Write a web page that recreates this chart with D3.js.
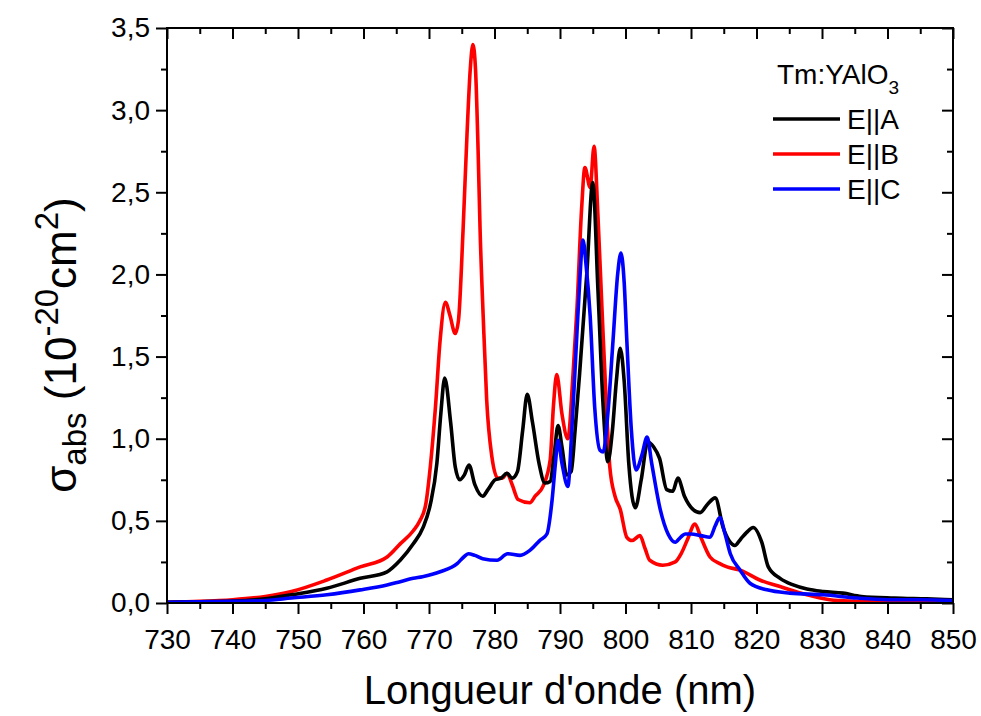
<!DOCTYPE html>
<html><head><meta charset="utf-8">
<script src="https://cdn.jsdelivr.net/npm/d3@7"></script>
<style>
body{margin:0;background:#fff}
svg{display:block}
text{font-family:"Liberation Sans",Arial,sans-serif;fill:#000}
</style>
</head><body>
<svg id="chart" width="981" height="716"></svg>
<script>
// ---------- data ----------
const xMajorTicks = [730,740,750,760,770,780,790,800,810,820,830,840,850];
const yMajorTicks = [0,0.5,1,1.5,2,2.5,3,3.5];
const seriesNames = ["E||A","E||B","E||C"];
const seriesColors = ["#000000","#ff0000","#0000ff"];
const legendTitle = "Tm:YAlO";
const legendTitleSub = "3";
const xTitle = "Longueur d'onde (nm)";

const nmA = [730,735,740,745,749,754.4,759.5,763.6,765.6,767.6,769.1,770.2,771.2,771.8,772.4,773.3,774,774.7,775.4,776.1,777,778.2,779,780.1,781,781.9,782.7,783.5,784.3,785,785.8,786.8,787.7,788.5,789.1,789.7,790.3,791,791.7,792.3,793,794.1,795,795.8,796.6,797.3,798,798.6,799.2,799.8,800.5,801.5,802.4,803.4,804.3,805.2,806.3,807.2,808,809,810.3,811.4,812.5,813.7,814.9,815.8,816.7,817.6,818.5,819.5,820.8,821.8,823.6,825.6,827.7,830.2,833.2,836,841,846,850];
const valA = [0.005,0.008,0.012,0.025,0.05,0.09,0.15,0.19,0.26,0.36,0.46,0.6,0.85,1.15,1.37,1.1,0.83,0.75,0.78,0.84,0.72,0.65,0.69,0.75,0.76,0.79,0.76,0.8,1.05,1.27,1.1,0.85,0.73,0.74,0.9,1.08,0.95,0.78,0.8,1.05,1.40,2.01,2.56,1.90,1.19,0.86,1.05,1.35,1.55,1.35,0.85,0.58,0.75,0.98,0.95,0.88,0.69,0.68,0.76,0.65,0.57,0.55,0.6,0.64,0.46,0.38,0.35,0.39,0.43,0.46,0.37,0.22,0.15,0.11,0.085,0.07,0.06,0.04,0.03,0.025,0.02];

const nmB = [730,735,740,745,749,754.4,759.5,763.6,765.6,767.6,768.6,769.5,770.2,771,771.7,772.5,773.2,774,774.5,775.2,775.8,776.3,776.7,777.1,777.5,777.8,778.3,778.8,779.6,780.5,781.2,781.9,782.7,783.6,785.4,786.2,787.4,788.5,789,789.5,790.3,791.2,792,792.6,793.3,793.8,794.6,795.2,795.8,796.4,797.2,797.6,798.4,799.2,800.2,801,802.2,803,803.7,805.7,807.6,808.5,809.4,810.6,811.5,812.9,814.4,815.5,817.5,820.5,823.6,827.7,831.2,835,840,850];
const valB = [0.005,0.01,0.02,0.04,0.07,0.14,0.22,0.28,0.36,0.44,0.5,0.6,0.83,1.2,1.6,1.83,1.75,1.64,1.72,2.27,2.85,3.25,3.40,3.25,2.75,2.27,1.72,1.24,0.89,0.76,0.76,0.79,0.72,0.63,0.61,0.65,0.71,0.87,1.2,1.39,1.15,1.0,1.4,1.80,2.4,2.65,2.53,2.78,2.35,1.80,1.10,0.83,0.65,0.57,0.40,0.38,0.41,0.33,0.26,0.23,0.25,0.30,0.38,0.48,0.40,0.28,0.24,0.22,0.20,0.14,0.10,0.05,0.02,0.01,0.005,0.003];

const nmC = [730,740,745,749,754.4,759.5,763.6,765.6,767.6,769,771.7,774.3,775.3,776,777,778.2,780.4,782,783.9,785.4,786.9,788,788.8,789.3,789.7,790.3,791.2,791.8,792.4,793,793.5,794,794.6,795.3,796.1,796.6,797.3,798.1,798.8,799.3,799.8,800.2,800.9,801.6,802.5,803.3,804,805.3,806.5,807.6,808.4,809.1,810,811.5,812.9,813.7,814.4,815.2,816,817.5,819,821.6,825.1,830.2,835.3,840,845,850];
const valC = [0.005,0.01,0.015,0.03,0.05,0.08,0.11,0.13,0.15,0.16,0.19,0.24,0.28,0.30,0.29,0.27,0.26,0.30,0.29,0.32,0.38,0.42,0.63,0.85,0.99,0.85,0.71,1.05,1.50,1.95,2.21,2.05,1.75,1.19,0.93,0.92,1.15,1.60,2.0,2.13,1.95,1.60,1.05,0.81,0.9,1.01,0.85,0.57,0.42,0.37,0.40,0.42,0.42,0.41,0.40,0.47,0.52,0.42,0.30,0.20,0.12,0.08,0.06,0.05,0.03,0.02,0.02,0.015];

// ---------- layout ----------
const W = 981, H = 716;
const m = {left:167, right:28, top:28, bottom:113};
const pw = W - m.left - m.right, ph = H - m.top - m.bottom;

const svg = d3.select("#chart");
const x = d3.scaleLinear().domain([730,850]).range([m.left, m.left+pw]);
const y = d3.scaleLinear().domain([0,3.5]).range([m.top+ph, m.top]);

const xMinor = d3.range(735, 850, 10);
const yMinor = d3.range(0.25, 3.5, 0.5);
const fmtY = d => d.toFixed(1).replace(".", ",");
const MAJ = 11, MIN = 6;

const series = [
  {nm:nmA, v:valA, c:seriesColors[0]},
  {nm:nmB, v:valB, c:seriesColors[1]},
  {nm:nmC, v:valC, c:seriesColors[2]}
];
svg.append("clipPath").attr("id","clp").append("rect")
  .attr("x",m.left).attr("y",m.top).attr("width",pw).attr("height",ph);
const line = d3.line().x(d=>x(d[0])).y(d=>y(d[1])).curve(d3.curveMonotoneX);
const g = svg.append("g").attr("clip-path","url(#clp)");
[1,0,2].forEach(i=>{
  const s = series[i];
  g.append("path").datum(s.nm.map((n,k)=>[n,s.v[k]]))
    .attr("d", line).attr("fill","none").attr("stroke", s.c)
    .attr("stroke-width",3.6).attr("stroke-linejoin","round");
});

// axes
function styleAxis(sel){
  sel.select(".domain").remove();
  sel.selectAll("line").attr("stroke","#000").attr("stroke-width",2);
  sel.selectAll("text").style("font-family",'"Liberation Sans",Arial,sans-serif').style("font-size","28px").attr("fill","#000");
}
const bx = svg.append("g").attr("transform",`translate(0,${m.top+ph})`)
  .call(d3.axisBottom(x).tickValues(xMajorTicks).tickSize(MAJ).tickPadding(15).tickFormat(d3.format("d")));
styleAxis(bx);
const bxm = svg.append("g").attr("transform",`translate(0,${m.top+ph})`)
  .call(d3.axisBottom(x).tickValues(xMinor).tickSize(MIN).tickFormat(""));
styleAxis(bxm);
const tx = svg.append("g").attr("transform",`translate(0,${m.top})`)
  .call(d3.axisTop(x).tickValues(xMajorTicks).tickSize(-MAJ).tickFormat(""));
styleAxis(tx);
const txm = svg.append("g").attr("transform",`translate(0,${m.top})`)
  .call(d3.axisTop(x).tickValues(xMinor).tickSize(-MIN).tickFormat(""));
styleAxis(txm);
const ly = svg.append("g").attr("transform",`translate(${m.left},0)`)
  .call(d3.axisLeft(y).tickValues(yMajorTicks).tickSize(MAJ).tickPadding(6).tickFormat(fmtY));
styleAxis(ly);
const lym = svg.append("g").attr("transform",`translate(${m.left},0)`)
  .call(d3.axisLeft(y).tickValues(yMinor).tickSize(MIN).tickFormat(""));
styleAxis(lym);
const ry = svg.append("g").attr("transform",`translate(${m.left+pw},0)`)
  .call(d3.axisRight(y).tickValues(yMajorTicks).tickSize(-MAJ).tickFormat(""));
styleAxis(ry);
const rym = svg.append("g").attr("transform",`translate(${m.left+pw},0)`)
  .call(d3.axisRight(y).tickValues(yMinor).tickSize(-MIN).tickFormat(""));
styleAxis(rym);

svg.append("rect").attr("x",m.left).attr("y",m.top).attr("width",pw).attr("height",ph)
  .attr("fill","none").attr("stroke","#000").attr("stroke-width",2);

// axis titles
svg.append("text").attr("x", m.left+pw/2).attr("y", 704).attr("text-anchor","middle")
  .style("font-size","40px").text(xTitle);

const yt = svg.append("text").attr("transform",`translate(76,345) rotate(-90)`)
  .attr("text-anchor","middle").style("font-size","44px");
yt.append("tspan").text("σ");
yt.append("tspan").attr("dy",10).style("font-size","33px").text("abs");
yt.append("tspan").attr("dy",-10).text(" (10");
yt.append("tspan").attr("dy",-18).style("font-size","33px").text("-20");
yt.append("tspan").attr("dy",18).text("cm");
yt.append("tspan").attr("dy",-18).style("font-size","33px").text("2");
yt.append("tspan").attr("dy",18).text(")");

// legend
const lt = svg.append("text").attr("x",777).attr("y",84).style("font-size","28px");
lt.append("tspan").text(legendTitle);
lt.append("tspan").attr("dy",10).style("font-size","19px").text(legendTitleSub);
const legY = [119,154,189];
seriesNames.forEach((n,i)=>{
  svg.append("line").attr("x1",773).attr("x2",840).attr("y1",legY[i]).attr("y2",legY[i])
    .attr("stroke",seriesColors[i]).attr("stroke-width",3.6);
  svg.append("text").attr("x",847).attr("y",legY[i]+10).style("font-size","28px").text(n);
});
</script>
</body></html>
